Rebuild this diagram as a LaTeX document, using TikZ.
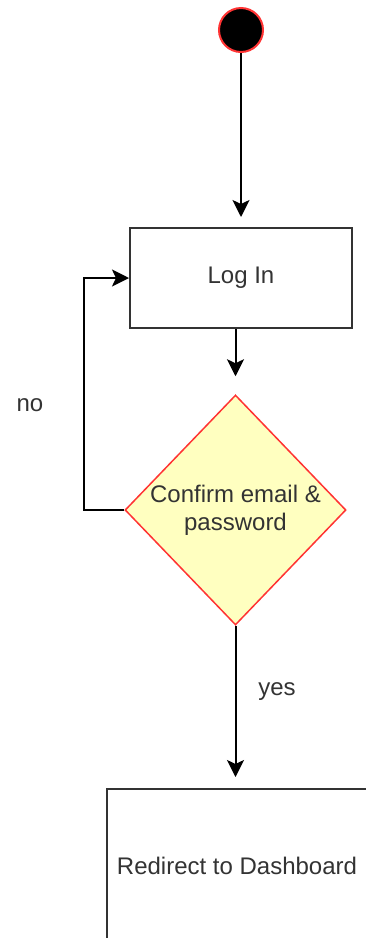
\documentclass[tikz,border=0pt]{standalone}
\usepackage{fontspec}
\setmainfont{Liberation Sans}
\usetikzlibrary{arrows.meta,shapes.geometric}
\definecolor{txt}{HTML}{333333}
\definecolor{dfill}{HTML}{FFFFC0}
\definecolor{dred}{HTML}{FF3333}
\tikzset{
  conn/.style={line width=2pt, draw=black, -{Stealth[length=17pt,width=17pt,inset=4pt]}},
  boxnode/.style={draw=txt, line width=2pt, fill=white, text=txt, font=\fontsize{24}{28}\selectfont},
  lbl/.style={text=txt, font=\fontsize{24}{28}\selectfont},
}
\begin{document}
\begin{tikzpicture}[x=1pt,y=-1pt]
\useasboundingbox (0,0) rectangle (366,938);
\clip (0,0) rectangle (366,938);
\node[circle, fill=black, draw=dred, line width=2pt, minimum size=44pt, inner sep=0pt] (start) at (241,30) {};
\node[boxnode, minimum width=222pt, minimum height=100pt, inner sep=0pt] (login) at (241,278) {Log In};
\node[diamond, draw=dred, line width=1.5pt, fill=dfill, text=txt, font=\fontsize{24}{28}\selectfont,
      minimum width=221pt, minimum height=230pt, inner sep=0pt, align=center, aspect=0.96] (dec) at (235.5,510) {Confirm email \&\\password};
\node[boxnode, minimum width=262pt, minimum height=158pt, inner sep=0pt, anchor=north west] (redir) at (106,788) {};
\node[lbl] (redirtxt) at (237,866) {Redirect to Dashboard};
\coordinate (lbend) at (84,510);
\coordinate (ltop) at (84,278);
\draw[conn, shorten >=10pt] (start.south) -- (login.north -| start.south);
\draw[conn, shorten >=18pt] (dec.north |- login.south) -- (dec.north);
\draw[conn] (dec.west) -- (lbend) -- (ltop) -- (login.west);
\draw[conn, shorten >=11pt] (dec.south) -- (dec.south |- redir.north);
\node[lbl] (no) at (30,405) {no};
\node[lbl] (yes) at (277,692) {yes};
\end{tikzpicture}
\end{document}
